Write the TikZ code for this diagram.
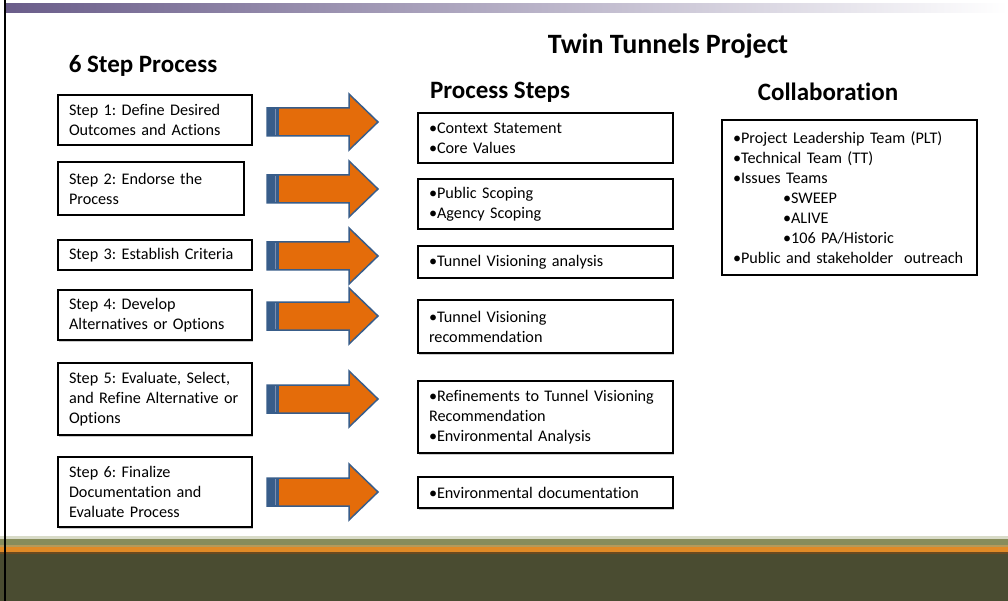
\documentclass[tikz,border=0pt]{standalone}
\usepackage{fontspec}
\setmainfont{Carlito}[Ligatures=NoCommon]
\usetikzlibrary{shadows}
\definecolor{barpurple}{HTML}{6A5D8A}
\definecolor{arroworange}{HTML}{E46C0A}
\definecolor{arrowblue}{HTML}{385D8A}
\definecolor{stripline}{HTML}{7F8FAF}
\definecolor{bandpale}{HTML}{D8DBC8}
\definecolor{bandolive}{HTML}{878C5B}
\definecolor{bandtan}{HTML}{B59A5A}
\definecolor{bandorange}{HTML}{E08A26}
\definecolor{bandedge}{HTML}{6A4A20}
\definecolor{banddark}{HTML}{4A4C31}
\tikzset{
  stepbox/.style={draw=black, line width=2.5pt, fill=white, inner xsep=11pt, inner ysep=0pt,
    align=left, font=\fontsize{16.2}{20}\selectfont,
    drop shadow={shadow xshift=1pt, shadow yshift=-1.5pt, fill=black!40, opacity=0.5}},
  heading/.style={font=\fontsize{25}{29}\selectfont\bfseries, inner sep=0pt},
  blockarrow/.pic={
    \draw[arrowblue, line width=1.5pt, fill=arroworange, line join=miter]
      (0,-14) -- (82,-14) -- (82,-28) -- (111,0) -- (82,28) -- (82,14) -- (0,14) -- cycle;
    \fill[arrowblue] (0,-14.5) rectangle (12,14.5);
    \draw[stripline, line width=0.8pt] (8,-13) -- (8,13);
  }
}
\frenchspacing
\begin{document}
\begin{tikzpicture}[x=1pt, y=-1pt]
\useasboundingbox (0,0) rectangle (1008,601);
\fill[white] (0,0) rectangle (1008,601);

% page frame: top shaded bar, footer bands, left rule
\shade[left color=barpurple, right color=white] (6,4) rectangle (1008,13);
\fill[bandpale]   (0,536) rectangle (1008,539);
\fill[bandolive]  (0,539) rectangle (1008,545);
\fill[bandtan]    (0,545) rectangle (1008,547);
\fill[bandorange] (0,547) rectangle (1008,552);
\fill[bandedge]   (0,552) rectangle (1008,553.5);
\fill[banddark]   (0,553.5) rectangle (1008,601);
\draw[black, line width=2.5pt] (5,0) -- (5,601);

% headings
\node[heading] (hsix) at (143,66) {6 Step Process};
\node[heading, font=\fontsize{28}{32}\selectfont\bfseries] (htitle) at (668,46) {Twin Tunnels Project};
\node[heading] (hproc) at (500,92) {Process Steps};
\node[heading] (hcollab) at (828,92) {Collaboration};

% six-step column
\node[stepbox, text width=172pt, minimum height=50pt] (s1) at (155,120) {Step 1: Define Desired\\Outcomes and Actions};
\node[stepbox, text width=164pt, minimum height=53pt] (s2) at (151,188.5) {Step 2: Endorse the\\Process};
\node[stepbox, text width=172pt, minimum height=30pt] (s3) at (155,255) {Step 3: Establish Criteria};
\node[stepbox, text width=172pt, minimum height=50pt] (s4) at (155,315) {Step 4: Develop\\Alternatives or Options};
\node[stepbox, text width=172pt, minimum height=72pt] (s5) at (155,399) {Step 5: Evaluate, Select,\\and Refine Alternative or\\Options};
\node[stepbox, text width=172pt, minimum height=70pt] (s6) at (155,492) {Step 6: Finalize\\Documentation and\\Evaluate Process};

% block arrows
\pic at (267,122) {blockarrow};
\pic at (267,189) {blockarrow};
\pic at (267,256) {blockarrow};
\pic at (267,316) {blockarrow};
\pic at (267,399) {blockarrow};
\pic at (267,492) {blockarrow};

% process steps column
\node[stepbox, text width=233pt, minimum height=50pt] (p1) at (545.5,138) {•Context Statement\\•Core Values};
\node[stepbox, text width=233pt, minimum height=50pt] (p2) at (545.5,204) {•Public Scoping\\•Agency Scoping};
\node[stepbox, text width=233pt, minimum height=32pt] (p3) at (545.5,262) {•Tunnel Visioning analysis};
\node[stepbox, text width=233pt, minimum height=53pt] (p4) at (545.5,326.5) {•Tunnel Visioning\\recommendation};
\node[stepbox, text width=233pt, minimum height=72pt] (p5) at (545.5,417) {•Refinements to Tunnel Visioning\\Recommendation\\•Environmental Analysis};
\node[stepbox, text width=233pt, minimum height=31pt] (p6) at (545.5,492.5) {•Environmental documentation};

% collaboration box
\node[stepbox, text width=233pt, minimum height=155pt] (c1) at (849.5,197.5)
  {•Project Leadership Team (PLT)\\•Technical Team (TT)\\•Issues Teams\\
   \hspace*{50pt}•SWEEP\\\hspace*{50pt}•ALIVE\\\hspace*{50pt}•106 PA/Historic\\
   •Public and stakeholder~ outreach};
\end{tikzpicture}
\end{document}
